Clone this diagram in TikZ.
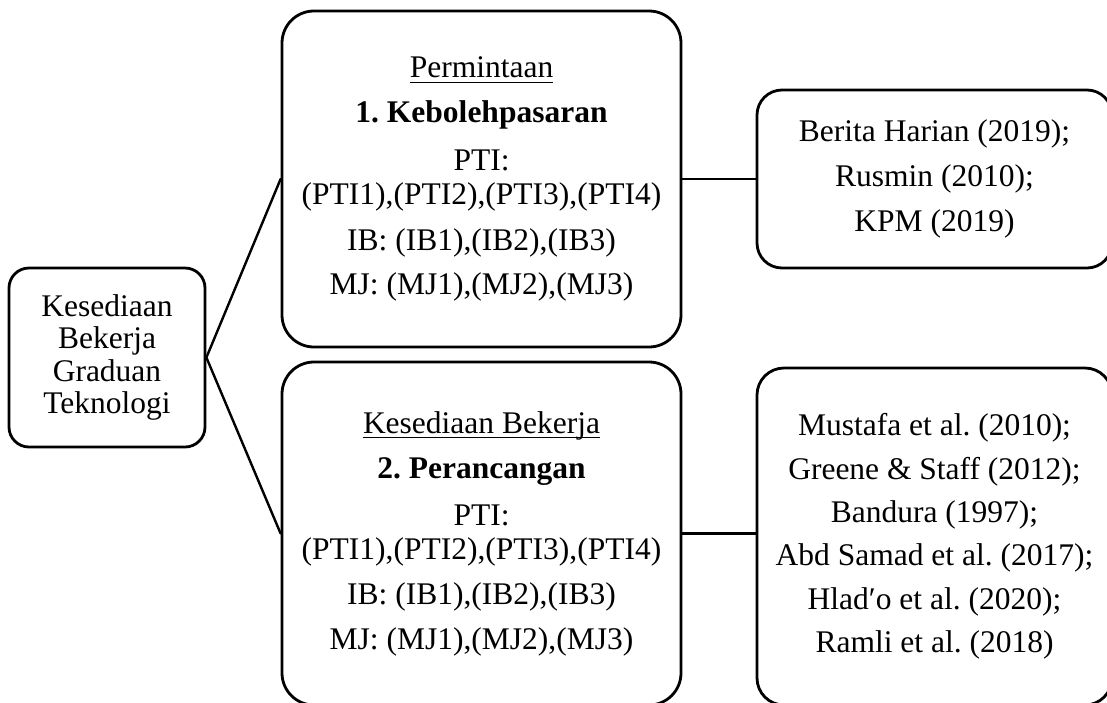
\documentclass[tikz,border=0pt]{standalone}
\usepackage{fontspec}
\setmainfont{Liberation Serif}
\frenchspacing
% underline at a fixed distance below the baseline, crossing descenders
\newcommand\ulfix[1]{\setbox0\hbox{#1}\rlap{\vrule width \wd0 height -4pt depth 5.4pt}\box0}
\begin{document}
\begin{tikzpicture}[x=1pt,y=-1pt,
  box/.style={draw, line width=2.8pt, rounded corners=#1, align=center, inner sep=0pt},
  box/.default=25pt,
  conn/.style={line width=2.4pt, line cap=round},
  bodyfont/.style={font=\fontsize{31.5}{34}\selectfont}
]
\useasboundingbox (0,0) rectangle (1107,702);
\clip (0,0) rectangle (1107,702);

% central concept
\node[box=20pt, minimum width=196pt, minimum height=179pt,
      font=\fontsize{31.5}{32.4}\selectfont] (root) at (107,357.5)
  {Kesediaan\\Bekerja\\Graduan\\Teknologi};

% the two dimensions
\node[box=32pt, bodyfont, minimum width=399pt, minimum height=336pt] (dim1) at (481.5,179)
  {\ulfix{Permintaan}\\[11pt]
   \textbf{1. Kebolehpasaran}\\[14pt]
   PTI:\\
   (PTI1),(PTI2),(PTI3),(PTI4)\\[12pt]
   IB: (IB1),(IB2),(IB3)\\[10pt]
   MJ: (MJ1),(MJ2),(MJ3)};

\node[box=32pt, bodyfont, minimum width=399pt, minimum height=343pt] (dim2) at (481.5,533.5)
  {\ulfix{Kesediaan Bekerja}\\[11pt]
   \textbf{2. Perancangan}\\[13pt]
   PTI:\\
   (PTI1),(PTI2),(PTI3),(PTI4)\\[11pt]
   IB: (IB1),(IB2),(IB3)\\[11pt]
   MJ: (MJ1),(MJ2),(MJ3)};

% supporting sources
\node[box=25pt, minimum width=355pt, minimum height=178pt,
      font=\fontsize{31.5}{45}\selectfont] (src1) at (934.5,179)
  {Berita Harian (2019);\\Rusmin (2010);\\KPM (2019)};

\node[box=27pt, minimum width=355pt, minimum height=337pt,
      font=\fontsize{31.5}{43.4}\selectfont] (src2) at (934.5,536.5)
  {Mustafa et al. (2010);\\Greene \& Staff (2012);\\Bandura (1997);\\
   Abd Samad et al. (2017);\\Hlad′o et al. (2020);\\Ramli et al. (2018)};

% connectors
\draw[conn] (root.east) -- (dim1.west);
\draw[conn] (root.east) -- (dim2.west);
\draw[conn] (dim1.east) -- (dim1.east -| src1.west);
\draw[conn] (dim2.east) -- (dim2.east -| src2.west);
\end{tikzpicture}
\end{document}
